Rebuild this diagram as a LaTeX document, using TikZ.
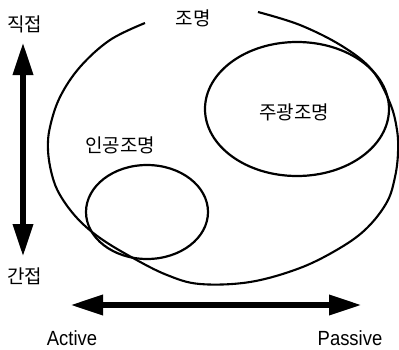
\documentclass[tikz,border=0pt]{standalone}
\usepackage{fontspec}
\usepackage{graphicx}
\setmainfont{Liberation Sans}
\newfontfamily\kr{Noto Sans CJK KR}
\usetikzlibrary{arrows.meta,shapes.geometric}
\begin{document}
\begin{tikzpicture}[x=1pt,y=-1pt,
  lab/.style={font=\kr\fontsize{19}{19}\selectfont, inner sep=0pt},
  en/.style={font=\fontsize{20.5}{20.5}\selectfont, inner sep=0pt},
  ring/.style={draw, line width=2.2pt, ellipse, inner sep=0pt},
  outline/.style={line width=2.1pt},
  dbl/.style={line width=6.5pt, {Triangle[length=33pt,width=19pt]}-{Triangle[length=33pt,width=19pt]}}]
\useasboundingbox (0,0) rectangle (399,349);
% outer open curve (lighting)
\draw[outline] plot[smooth, tension=0.6] coordinates {
 (145,23) (110,40) (80,67) (60,97) (50,127) (48,150) (52,175) (60,195)
 (77,218) (100,238) (133,258) (167,275) (200,284) (250,282) (300,268)
 (340,248) (367,228) (387,202) (395,177) (398,153) (397,130) (390,103)
 (372,70) (342,46) (300,25) (258,12)};
% inner ellipses
\node[ring, minimum width=184pt, minimum height=134pt] (day) at (297,109) {};
\node[ring, minimum width=122pt, minimum height=94pt] (art) at (147,212) {};
% labels
\node[lab] (t1) at (24.5,24) {직접};
\node[lab] (t2) at (24.5,276) {간접};
\node[lab] (t3) at (193,18) {조명};
\node[lab] (t4) at (120,145) {인공조명};
\node[lab] (t5) at (294,112) {주광조명};
\node[en] (a1) at (72,338) {\scalebox{0.9}[1]{Active}};
\node[en] (a2) at (350,338) {\scalebox{0.9}[1]{Passive}};
% arrows
\coordinate (vtop) at (23,42);
\coordinate (vbot) at (23,257);
\coordinate (hl) at (70,305);
\coordinate (hr) at (362,305);
\draw[dbl] (vtop) -- (vbot);
\draw[dbl] (hl) -- (hr);
\end{tikzpicture}
\end{document}
